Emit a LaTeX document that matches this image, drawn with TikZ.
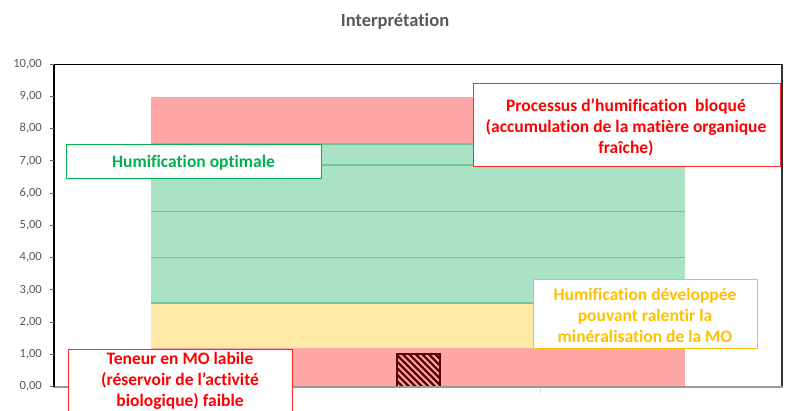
\documentclass[tikz,border=0pt]{standalone}
\usepackage{fontspec}
\setmainfont{Carlito}[Ligatures={NoCommon}]
\definecolor{bandred}{RGB}{255,167,167}
\definecolor{bandgreen}{RGB}{169,226,196}
\definecolor{bandyellow}{RGB}{255,233,166}
\definecolor{gline}{RGB}{112,200,146}
\definecolor{txtred}{RGB}{255,0,0}
\definecolor{boxred}{RGB}{255,40,40}
\definecolor{txtgreen}{RGB}{0,176,80}
\definecolor{txtorange}{RGB}{255,192,0}
\definecolor{labgrey}{RGB}{89,89,89}
\definecolor{hatchred}{RGB}{90,0,0}
\newcommand{\apos}{{\char"0027}}
\tikzset{
  lab/.style={font=\fontsize{12.5}{14}\selectfont, text=labgrey, inner sep=0pt, anchor=east},
  ttl/.style={font=\bfseries\fontsize{18.5}{22}\selectfont, text=labgrey, inner sep=0pt},
  infobox/.style={fill=white, line width=1pt, inner sep=0pt, anchor=north west},
  infotext/.style={font=\bfseries\fontsize{17.5}{21}\selectfont, align=center, inner sep=0pt},
}
\begin{document}
\begin{tikzpicture}[x=1pt,y=-1pt]
\useasboundingbox (0,0) rectangle (786,410);
\fill[white] (0,0) rectangle (786,410);
% bands
\fill[bandred] (151,96.5) rectangle (685,144);
\fill[bandgreen] (151,144) rectangle (685,303);
\fill[bandyellow] (151,303) rectangle (685,348);
\fill[bandred] (151,348) rectangle (685,386.5);
\foreach \yy in {144,165,211.5,257.5,303}
  \draw[gline, line width=1.6pt] (151,\yy) -- (685,\yy);
\draw[bandred!80!black!60!bandred, line width=1pt] (151,386) -- (685,386);
% hatched bar
\coordinate (hbNW) at (397,354);
\coordinate (hbSE) at (440,386.5);
\fill[bandred] (hbNW) rectangle (hbSE);
\begin{scope}
  \clip (hbNW) rectangle (hbSE);
  \foreach \k in {-40,-33.5,...,45}
    \draw[hatchred, line width=2.2pt] (397+\k,354) -- (397+\k+33,387);
\end{scope}
\draw[hatchred, line width=1.6pt] (hbNW) rectangle (hbSE);
% frame and axes
\draw[black, line width=1pt] (54,64) -- (782,64);
\draw[black!80, line width=1.6pt] (782,64) -- (782,386.5);
\draw[black!40, line width=2pt] (53,386.5) -- (783,386.5);
\draw[black!15, line width=1pt] (540,388) -- (540,393);
\draw[black, line width=1.6pt] (54,64) -- (54,386.5);
\foreach \v in {0,...,10}{
  \draw[black!60, line width=1pt] (49.5,386.5-32.25*\v) -- (54,386.5-32.25*\v);
  \node[lab] (lab\v) at (42,386.5-32.25*\v) {\v,00};
}
% title
\node[ttl] (title) at (395,21) {Interprétation};
% info boxes
\node[infobox, draw=txtgreen, minimum width=255pt, minimum height=34pt] (optbox) at (66,144) {};
\node[infotext, text=txtgreen, anchor=base] (opttext) at (193.5,167.5) {Humification optimale};
\node[infobox, minimum width=306pt, minimum height=82pt] (procbox) at (473,83) {};
\draw[boxred, line width=1pt] (procbox.north west) rectangle (procbox.south east);
\node[infotext, text=txtred] (proctext) at (626,127) {Processus d\apos humification\ \ bloqué\\(accumulation de la matière organique\\fraîche)};
\node[infobox, draw=txtorange, minimum width=224pt, minimum height=69pt] (devbox) at (533,279) {};
\node[infotext, text=txtorange] (devtext) at (645,315) {Humification développée\\pouvant ralentir la\\minéralisation de la MO};
\node[infobox, draw=boxred, minimum width=224pt, minimum height=75pt] (tenbox) at (68,349) {};
\node[infotext, text=txtred] (tentext) at (180,381) {Teneur en MO labile\\(réservoir de l\apos activité\\biologique) faible};
\end{tikzpicture}
\end{document}
